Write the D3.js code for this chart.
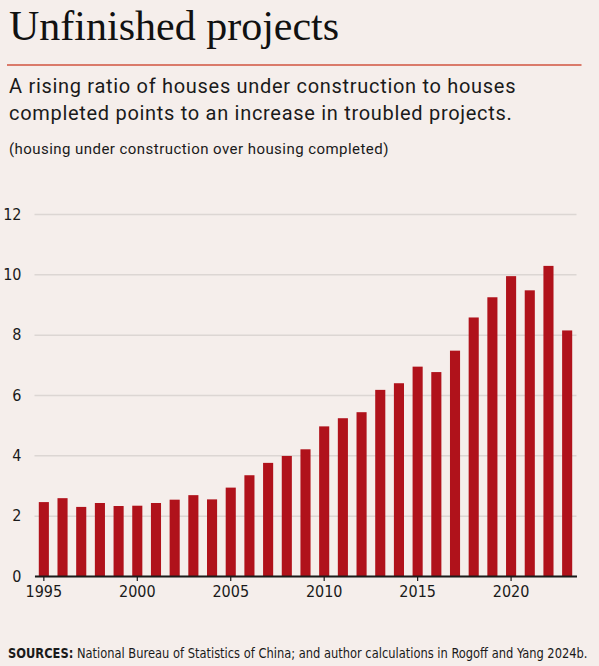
<!DOCTYPE html>
<html>
<head>
<meta charset="utf-8">
<script src="https://cdn.jsdelivr.net/npm/d3@7"></script>
<style>
  html, body { margin: 0; padding: 0; background: #f5eeeb; }
  svg { display: block; }
</style>
</head>
<body>
<div id="viz"></div>
<script>
// Data
const years = d3.range(1995, 2024);
const ratio = [2.45, 2.58, 2.29, 2.42, 2.32, 2.33, 2.42, 2.53, 2.68, 2.54,
               2.93, 3.34, 3.75, 3.98, 4.20, 4.96, 5.23, 5.43, 6.17, 6.39,
               6.94, 6.76, 7.47, 8.57, 9.24, 9.94, 9.47, 10.28, 8.14];
const yTicks = [0, 2, 4, 6, 8, 10, 12];
const xTicks = [1995, 2000, 2005, 2010, 2015, 2020];

const titleText = "Unfinished projects";
const subtitleLines = [
    "A rising ratio of houses under construction to houses",
    "completed points to an increase in troubled projects."
];
const noteText = "(housing under construction over housing completed)";
const sourceLabel = "SOURCES:";
const sourceText = " National Bureau of Statistics of China; and author calculations in Rogoff and Yang 2024b.";

const dims = { width: 599, height: 666 };
const plot = { left: 34.5, right: 576.5, top: 214, bottom: 576 };

const svg = d3.select("#viz")
    .append("svg")
    .attr("width", dims.width)
    .attr("height", dims.height);

svg.append("rect")
    .attr("width", dims.width)
    .attr("height", dims.height)
    .attr("fill", "#f5eeeb");

// Header
svg.append("text")
    .attr("x", 9)
    .attr("y", 40)
    .attr("font-family", "'Liberation Serif', 'DejaVu Serif', serif")
    .attr("font-size", 42)
    .attr("fill", "#111")
    .text(titleText);

svg.append("line")
    .attr("x1", 7).attr("x2", 581.5)
    .attr("y1", 65).attr("y2", 65)
    .attr("stroke", "#d0533f")
    .attr("stroke-width", 1.3);

svg.selectAll("text.subtitle")
    .data(subtitleLines)
    .enter()
    .append("text")
    .attr("class", "subtitle")
    .attr("x", 9)
    .attr("y", (d, i) => 93 + i * 27)
    .attr("font-family", "Roboto, 'Noto Sans', sans-serif")
    .attr("font-size", 20)
    .attr("letter-spacing", 0.7)
    .attr("fill", "#1a1a1a")
    .text(d => d);

svg.append("text")
    .attr("x", 9)
    .attr("y", 154)
    .attr("font-family", "Roboto, 'Noto Sans', sans-serif")
    .attr("font-size", 15)
    .attr("letter-spacing", 0.45)
    .attr("fill", "#1a1a1a")
    .text(noteText);

// Scales
const x = d3.scaleBand()
    .domain(years)
    .range([plot.left, plot.right])
    .paddingInner(0.46)
    .paddingOuter(0.23);

const y = d3.scaleLinear()
    .domain([0, 12])
    .range([plot.bottom, plot.top]);

const axisFont = "'DejaVu Sans Condensed', 'DejaVu Sans', sans-serif";

// Gridlines + y labels
const yAxis = svg.append("g")
    .attr("transform", `translate(${plot.left},0)`)
    .call(d3.axisLeft(y)
        .tickValues(yTicks)
        .tickSize(-(plot.right - plot.left))
        .tickPadding(13)
        .tickFormat(d3.format("d")));
yAxis.select(".domain").remove();
yAxis.selectAll(".tick line")
    .attr("stroke", "#dcd6d3")
    .attr("stroke-width", 1.5);
yAxis.selectAll(".tick text")
    .attr("font-family", axisFont)
    .attr("font-stretch", "condensed")
    .attr("font-size", 16)
    .attr("fill", "#1a1a1a");

// Bars
svg.selectAll("rect.bar")
    .data(years)
    .enter()
    .append("rect")
    .attr("class", "bar")
    .attr("x", d => x(d))
    .attr("width", x.bandwidth())
    .attr("y", (d, i) => y(ratio[i]))
    .attr("height", (d, i) => y(0) - y(ratio[i]))
    .attr("fill", "#b0121b");

// X axis
const xAxis = svg.append("g")
    .attr("transform", `translate(0,${plot.bottom})`)
    .call(d3.axisBottom(x)
        .tickValues(xTicks)
        .tickSize(5)
        .tickSizeOuter(0)
        .tickPadding(5));
xAxis.select(".domain")
    .attr("stroke", "#1a1a1a")
    .attr("stroke-width", 2);
xAxis.selectAll(".tick line")
    .attr("stroke", "#1a1a1a")
    .attr("stroke-width", 1.2);
xAxis.selectAll(".tick text")
    .attr("font-family", axisFont)
    .attr("font-stretch", "condensed")
    .attr("font-size", 16)
    .attr("fill", "#1a1a1a");

// Sources - the reference uses a condensed face, so squeeze horizontally to fit
const srcWidth = 580;
const src = svg.append("text")
    .attr("font-family", axisFont)
    .attr("font-size", 13.5)
    .attr("fill", "#1a1a1a");
src.append("tspan")
    .attr("font-weight", "bold")
    .text(sourceLabel);
src.append("tspan")
    .text(sourceText);
const natural = src.node().getComputedTextLength();
const sx = Math.min(1, srcWidth / natural);
src.attr("transform", `translate(8,658) scale(${sx},1)`);
</script>
</body>
</html>
